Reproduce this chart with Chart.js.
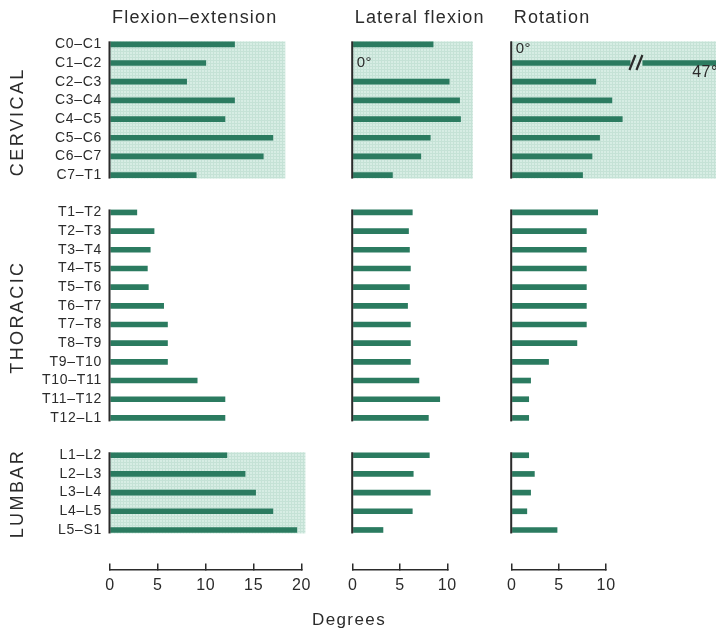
<!DOCTYPE html>
<html><head><meta charset="utf-8">
<script src="https://cdn.jsdelivr.net/npm/chart.js@4"></script>
<style>
html,body{margin:0;padding:0;background:#fff;}
#wrap{position:relative;width:716px;height:630px;overflow:hidden;background:#fff;}
#wrap canvas{position:absolute;left:0;top:0;}
</style></head><body>
<div id="wrap">
<canvas id="c1" width="716" height="630"></canvas>
<canvas id="c2" width="716" height="630"></canvas>
<canvas id="c3" width="716" height="630"></canvas>
</div>
<script>
// ---- data ----
const cervicalSegments = ['C0–C1','C1–C2','C2–C3','C3–C4','C4–C5','C5–C6','C6–C7','C7–T1'];
const thoracicSegments = ['T1–T2','T2–T3','T3–T4','T4–T5','T5–T6','T6–T7','T7–T8','T8–T9','T9–T10','T10–T11','T11–T12','T12–L1'];
const lumbarSegments = ['L1–L2','L2–L3','L3–L4','L4–L5','L5–S1'];
const regionNames = ['CERVICAL','THORACIC','LUMBAR'];
const panelTitles = ['Flexion–extension','Lateral flexion','Rotation'];
const axisTitle = 'Degrees';

const flexionCervical = [13, 10, 8, 13, 12, 17, 16, 9];
const flexionThoracic = [2.8, 4.6, 4.2, 3.9, 4.0, 5.6, 6, 6, 6, 9.1, 12, 12];
const flexionLumbar = [12.2, 14.1, 15.2, 17, 19.5];

const lateralCervical = [8.5, 0, 10.2, 11.3, 11.4, 8.2, 7.2, 4.2];
const lateralThoracic = [6.3, 5.9, 6.0, 6.1, 6.0, 5.8, 6.1, 6.1, 6.1, 7.0, 9.2, 8.0];
const lateralLumbar = [8.1, 6.4, 8.2, 6.3, 3.2];

const rotationCervical = [0, 47, 8.9, 10.6, 11.7, 9.3, 8.5, 7.5];
const rotationThoracic = [9.1, 7.9, 7.9, 7.9, 7.9, 7.9, 7.9, 6.9, 3.9, 2.0, 1.8, 1.8];
const rotationLumbar = [1.8, 2.4, 2.0, 1.6, 4.8];

const flexionTicks = [0, 5, 10, 15, 20];
const smallTicks = [0, 5, 10];

// ---- styling ----
const BAR = '#2b7b60';
const INK = '#2b2b2b';
const FONT = "'Liberation Sans', Arial, Helvetica, sans-serif";

const labels = [...cervicalSegments, '', ...thoracicSegments, '', ...lumbarSegments];
const nC = cervicalSegments.length, nT = thoracicSegments.length, nL = lumbarSegments.length;
const groups = [[0, nC - 1], [nC + 1, nC + nT], [nC + nT + 2, nC + nT + nL + 1]];
function joinGroups(a, b, c) { return [...a, null, ...b, null, ...c]; }

function shadePattern(ctx) {
  const c = document.createElement('canvas'); c.width = 3; c.height = 3;
  const g = c.getContext('2d');
  g.fillStyle = '#d7ede4'; g.fillRect(0, 0, 3, 3);
  g.fillStyle = '#c5e2d6'; g.fillRect(0, 0, 3, 1); g.fillRect(0, 0, 1, 3);
  return ctx.createPattern(c, 'repeat');
}

function makeDecor(cfg) {
  return {
    id: 'decor',
    beforeDraw(chart) { chart.ctx.letterSpacing = '0.7px'; },
    beforeDatasetsDraw(chart) {
      const { ctx } = chart; const x = chart.scales.x, y = chart.scales.y;
      ctx.save();
      ctx.fillStyle = shadePattern(ctx);
      for (const s of cfg.shades) {
        const [a, b] = groups[s.group];
        const top = y.getPixelForValue(a) - 3, bot = y.getPixelForValue(b) + 3.5;
        const l = x.getPixelForValue(0), r = s.to === 'edge' ? chart.width : x.getPixelForValue(s.to);
        ctx.fillRect(l, top, r - l, bot - top);
      }
      ctx.restore();
    },
    afterDatasetsDraw(chart) {
      const { ctx } = chart; const x = chart.scales.x, y = chart.scales.y;
      const data = chart.data.datasets[0].data;
      const x0 = x.getPixelForValue(0);
      ctx.save();
      ctx.fillStyle = INK;
      for (const [a, b] of groups) {
        const top = y.getPixelForValue(a) - 3, bot = y.getPixelForValue(b) + 3.5;
        ctx.fillRect(x0 - 1.5, top, 2, bot - top);
      }
      ctx.letterSpacing = '0.5px';
      ctx.textBaseline = 'middle'; ctx.textAlign = 'left';
      data.forEach((v, i) => {
        if (v === 0) {
          ctx.font = `15px ${FONT}`; ctx.fillStyle = INK;
          ctx.fillText('0°', x0 + 4, y.getPixelForValue(i) + cfg.zeroDy);
        }
        if (v !== null && cfg.breakAbove !== undefined && v > cfg.breakAbove) {
          const py = y.getPixelForValue(i);
          const bx = x.getPixelForValue(cfg.breakAt);
          ctx.fillStyle = shadePattern(ctx);
          ctx.fillRect(bx - 6, py - 4, 12, 8);
          ctx.strokeStyle = INK; ctx.lineWidth = 2.2;
          for (const dx of [-4, 3]) {
            ctx.beginPath(); ctx.moveTo(bx + dx - 3, py + 7); ctx.lineTo(bx + dx + 3, py - 8); ctx.stroke();
          }
          ctx.font = `16px ${FONT}`; ctx.fillStyle = INK;
          ctx.fillText(v + '°', x.getPixelForValue(cfg.valueLabelAt), py + 10);
        }
      });
      ctx.restore();
    },
    afterDraw(chart) {
      const { ctx } = chart; const y = chart.scales.y;
      ctx.save();
      ctx.fillStyle = INK; ctx.textBaseline = 'middle'; ctx.textAlign = 'left';
      ctx.letterSpacing = '1.2px';
      ctx.font = `18px ${FONT}`;
      ctx.fillText(cfg.title, chart.chartArea.left + 2, 18);
      if (cfg.regions) {
        ctx.font = `18px ${FONT}`; ctx.letterSpacing = '2.4px';
        const dy = [12, 2, 1];
        groups.forEach(([a, b], k) => {
          const cy = (y.getPixelForValue(a) + y.getPixelForValue(b)) / 2 + dy[k];
          ctx.save(); ctx.translate(18, cy); ctx.rotate(-Math.PI / 2);
          ctx.textAlign = 'center'; ctx.fillText(regionNames[k], 0, 0); ctx.restore();
        });
        ctx.font = `17px ${FONT}`; ctx.letterSpacing = '1.4px'; ctx.textAlign = 'center';
        ctx.fillText(axisTitle, 349, 620);
      }
      ctx.restore();
    }
  };
}

const AREA_TOP = 35, AREA_BOTTOM = 539.3, AXIS_Y_VALUE = 28.14;

function makeChart(id, opt) {
  const leftArea = opt.left, rightArea = opt.left + opt.max * opt.pxPerDeg;
  return new Chart(document.getElementById(id), {
    type: 'bar',
    data: { labels, datasets: [{ data: opt.data, backgroundColor: BAR, barThickness: 5, borderWidth: 0, clip: false }] },
    options: {
      indexAxis: 'y', responsive: false, animation: false, devicePixelRatio: 1,
      layout: { padding: { top: AREA_TOP, bottom: 630 - AREA_BOTTOM, left: opt.showY ? 0 : leftArea, right: 716 - rightArea } },
      plugins: { legend: { display: false }, tooltip: { enabled: false } },
      scales: {
        y: {
          type: 'category', display: opt.showY, offset: true,
          afterFit: s => { if (opt.showY) s.width = leftArea; },
          grid: { display: false, drawTicks: false }, border: { display: false },
          ticks: { autoSkip: false, padding: 8, color: INK, font: { family: FONT, size: 14 } }
        },
        x: {
          type: 'linear', min: 0, max: opt.max, position: { y: AXIS_Y_VALUE },
          afterBuildTicks: s => { s.ticks = opt.ticks.map(v => ({ value: v })); },
          ticks: { padding: 13, maxRotation: 0, color: INK, font: { family: FONT, size: 16 } },
          grid: { drawOnChartArea: false, drawTicks: true, tickLength: -7, color: INK, lineWidth: 1.5 },
          border: { display: true, color: INK, width: 1.5 }
        }
      }
    },
    plugins: [makeDecor(opt.decor)]
  });
}

makeChart('c1', {
  left: 110, max: 20, pxPerDeg: 9.58, showY: true, ticks: flexionTicks,
  data: joinGroups(flexionCervical, flexionThoracic, flexionLumbar),
  decor: { title: panelTitles[0], regions: true, zeroDy: 0, shades: [{ group: 0, to: 18.3 }, { group: 2, to: 20.4 }] }
});
makeChart('c2', {
  left: 352.7, max: 10, pxPerDeg: 9.46, showY: false, ticks: smallTicks,
  data: joinGroups(lateralCervical, lateralThoracic, lateralLumbar),
  decor: { title: panelTitles[1], regions: false, zeroDy: 0, shades: [{ group: 0, to: 12.7 }] }
});
makeChart('c3', {
  left: 511.7, max: 10, pxPerDeg: 9.45, showY: false, ticks: smallTicks,
  data: joinGroups(rotationCervical, rotationThoracic, rotationLumbar),
  decor: { title: panelTitles[2], regions: false, zeroDy: 4.5, breakAbove: 20, breakAt: 13.2, valueLabelAt: 19.1, shades: [{ group: 0, to: 'edge' }] }
});
</script>
</body></html>
